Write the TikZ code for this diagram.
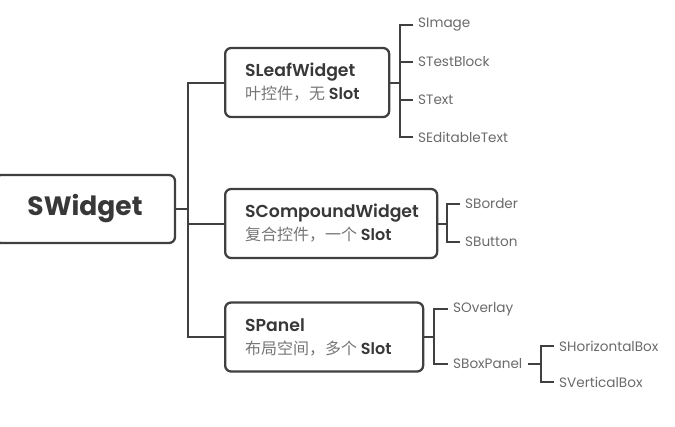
\documentclass[tikz,border=0pt]{standalone}
\usepackage{fontspec}
\setmainfont{Poppins}[BoldFont={Poppins SemiBold}]
\newfontfamily\cjkfont{Noto Sans CJK SC}
\newfontfamily\heavyfont{Poppins}[UprightFont={* Bold}]
\definecolor{linec}{HTML}{404040}
\definecolor{titlec}{HTML}{383838}
\definecolor{subc}{HTML}{767676}
\definecolor{leafc}{HTML}{6A6A6A}
\tikzset{
  box/.style={draw=linec, line width=2.3bp, rounded corners=6bp, fill=white,
    align=left, inner xsep=20bp, inner ysep=0bp, anchor=west, minimum height=69bp},
  conn/.style={draw=linec, line width=2bp},
  leaf/.style={anchor=west, inner xsep=5bp, inner ysep=0bp, text=leafc,
    font=\fontsize{13.6bp}{15bp}\selectfont},
}
\newcommand{\subline}[1]{{\fontsize{16bp}{23bp}\selectfont\color{subc}\cjkfont #1}}
\newcommand{\slotw}{{\fontsize{16bp}{23bp}\selectfont\bfseries\color{titlec}Slot}}
\begin{document}
\begin{tikzpicture}[x=1bp,y=-1bp]
\useasboundingbox (0,0) rectangle (675,426);
% root
\node[box, anchor=center, minimum width=180bp, minimum height=68bp, inner xsep=0bp,
  align=center, font=\fontsize{26.5bp}{30bp}\selectfont\heavyfont, text=titlec]
  (root) at (85,209) {SWidget};
% level 1
\node[box, text width=124bp, font=\fontsize{17.3bp}{23bp}\selectfont] (lw) at (224,82.5)
  {\textcolor{titlec}{\bfseries SLeafWidget}\\\subline{叶控件，无}\hspace{-2bp} \slotw};
\node[box, text width=172bp, font=\fontsize{17.3bp}{23bp}\selectfont] (cw) at (224,223.5)
  {\textcolor{titlec}{\bfseries SCompoundWidget}\\\subline{复合控件，一个}\hspace{-2bp} \slotw};
\node[box, text width=158bp, font=\fontsize{17.3bp}{23bp}\selectfont] (pw) at (224,337)
  {\textcolor{titlec}{\bfseries SPanel}\\\subline{布局空间，多个}\hspace{-2bp} \slotw};
% trunk
\coordinate (trunk) at (188,209);
\draw[conn] (root.east) -- (trunk);
\draw[conn] (lw.west) -| (trunk) |- (pw.west);
\draw[conn] (trunk) |- (cw.west);
% leaf children
\node[leaf] (simage) at (413,25) {SImage};
\node[leaf] (stest) at (413,62) {STestBlock};
\node[leaf] (stext) at (413,100) {SText};
\node[leaf] (sedit) at (413,137) {SEditableText};
\coordinate (lb) at (400,82.5);
\draw[conn] (lw.east) -- (lb);
\draw[conn] (simage.west) -| (lb) |- (sedit.west);
\draw[conn] (lb) |- (stest.west);
\draw[conn] (lb) |- (stext.west);
% compound children
\node[leaf] (sborder) at (460,204) {SBorder};
\node[leaf] (sbutton) at (460,242) {SButton};
\coordinate (cb) at (447,223.5);
\draw[conn] (cw.east) -- (cb);
\draw[conn] (sborder.west) -| (cb) |- (sbutton.west);
% panel children
\node[leaf] (soverlay) at (448,309) {SOverlay};
\node[leaf] (sboxp) at (448,364) {SBoxPanel};
\coordinate (pb) at (434,337);
\draw[conn] (pw.east) -- (pb);
\draw[conn] (soverlay.west) -| (pb) |- (sboxp.west);
% box panel children
\node[leaf] (shbox) at (554,346) {SHorizontalBox};
\node[leaf] (svbox) at (554,382) {SVerticalBox};
\coordinate (bb) at (541,364);
\draw[conn] (sboxp.east) ++(1,0) -- (bb);
\draw[conn] (shbox.west) -| (bb) |- (svbox.west);
\end{tikzpicture}
\end{document}
